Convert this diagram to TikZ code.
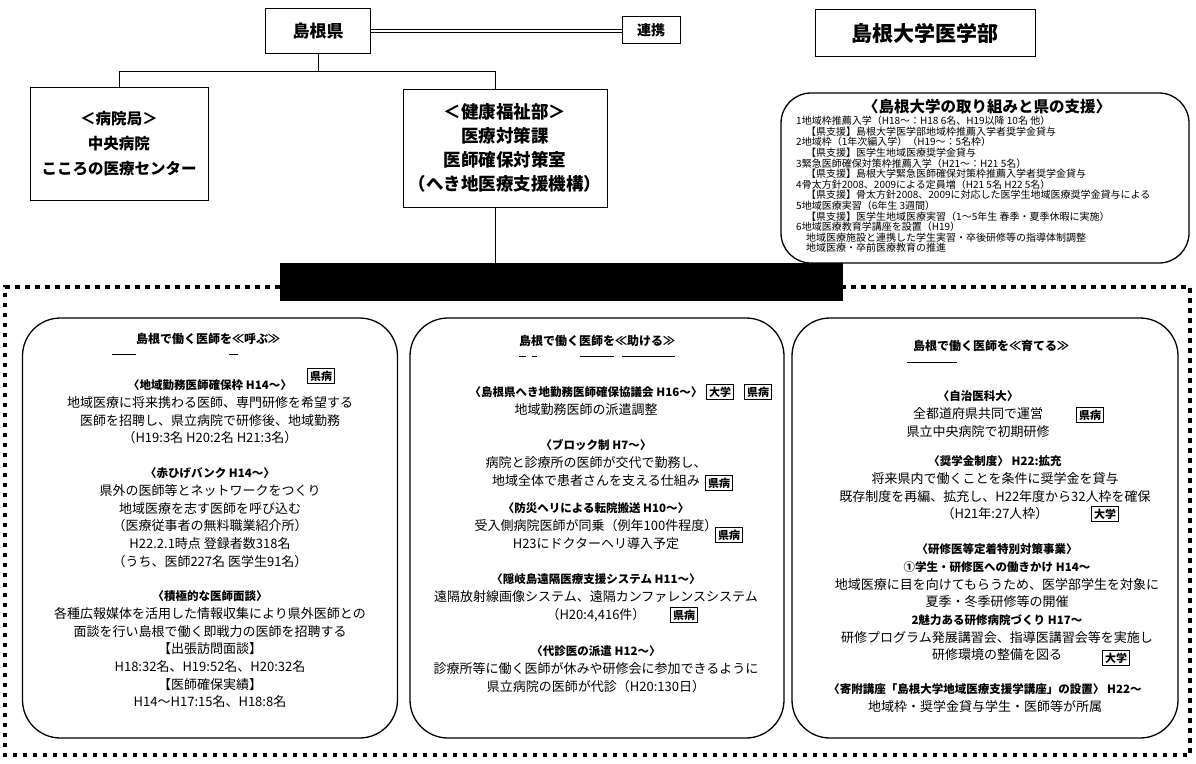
\documentclass[tikz,border=0pt]{standalone}
\usepackage{fontspec}
\setmainfont{Noto Sans CJK JP}
\usetikzlibrary{positioning}
\newcommand\itemhead[1]{{\bfseries\fontsize{11.5}{17.7}\selectfont #1}}

\begin{document}
\begin{tikzpicture}[
    x=1pt, y=-1pt,
    orgbox/.style={draw, line width=1pt, align=center, inner sep=0pt},
    panel/.style={draw, line width=1.3pt, rounded corners=38pt, inner sep=0pt},
    paneltitle/.style={font=\bfseries\fontsize{12}{14}\selectfont},
    item/.style={anchor=north, align=center, inner sep=0pt, font=\fontsize{13}{17.7}\selectfont},
    tag/.style={draw, line width=1.3pt, fill=white, inner sep=2.5pt, font=\bfseries\fontsize{11}{11}\selectfont},
    dotframe/.style={line width=4pt, dash pattern=on 4.5pt off 5.5pt},
    uline/.style={line width=0.8pt}
]
\useasboundingbox (0,0) rectangle (1196,763);

\node[orgbox, minimum width=105, minimum height=45, font=\bfseries\fontsize{17}{17}\selectfont] (pref) at (318,31) {島根県};
\node[orgbox, minimum width=58, minimum height=27, font=\bfseries\fontsize{14}{14}\selectfont] (renkei) at (651,30) {連携};
\node[orgbox, minimum width=220, minimum height=47, font=\bfseries\fontsize{21}{21}\selectfont] (univ) at (925,33) {島根大学医学部};
\draw[double, double distance=2.2pt, line width=0.7pt] (pref.east) -- (pref.east -| renkei.west);
\draw[double, double distance=1.6pt, line width=0.6pt] (renkei.east |- pref.east) -- (pref.east -| univ.west);

\node[orgbox, minimum width=178, minimum height=113, font=\bfseries\fontsize{15.5}{25}\selectfont] (hosp) at (119,144) {＜病院局＞\\中央病院\\こころの医療センター};
\node[orgbox, minimum width=204, minimum height=118, font=\bfseries\fontsize{17.5}{24}\selectfont] (welfare) at (505,148) {＜健康福祉部＞\\医療対策課\\医師確保対策室\\（へき地医療支援機構）};
\draw[line width=1pt] (pref.south) -- ++(0,17) coordinate (fork) -| ([xshift=-10pt]welfare.north);
\draw[line width=1pt] (fork) -| (hosp.north);

\node[panel, rounded corners=30pt, minimum width=408, minimum height=170] (unibox) at (985,178) {};
\node[font=\bfseries\fontsize{15.5}{16}\selectfont] (unititle) at (987,107) {〈島根大学の取り組みと県の支援〉};
\node[anchor=north west, align=left, inner sep=0pt, font=\fontsize{10}{10.6}\selectfont] (unilist) at (796,116) {%
1地域枠推薦入学（H18〜：H18 6名、H19以降 10名 他）\\
　【県支援】島根大学医学部地域枠推薦入学者奨学金貸与\\
2地域枠（1年次編入学）（H19〜：5名枠）\\
　【県支援】医学生地域医療奨学金貸与\\
3緊急医師確保対策枠推薦入学（H21〜：H21 5名）\\
　【県支援】島根大学緊急医師確保対策枠推薦入学者奨学金貸与\\
4骨太方針2008、2009による定員増（H21 5名 H22 5名）\\
　【県支援】骨太方針2008、2009に対応した医学生地域医療奨学金貸与による\\
5地域医療実習（6年生 3週間）\\
　【県支援】医学生地域医療実習（1〜5年生 春季・夏季休暇に実施）\\
6地域医療教育学講座を設置（H19）\\
　地域医療施設と連携した学生実習・卒後研修等の指導体制調整\\
　地域医療・卒前医療教育の推進};

\node[fill=black, draw, line width=1pt, minimum width=562, minimum height=37, inner sep=0pt] (bar) at (561,282) {};
\draw[line width=1pt] ([xshift=-10pt]welfare.south) -- ([xshift=-10pt]welfare.south |- bar.north);
\draw[dotframe] (bar.west |- 0,287) -- (5,287) -- (5,755) -- (1190,755) -- (1190,287) -- (bar.east |- 0,287);

\node[panel, minimum width=375, minimum height=420] (call) at (210,528) {};
\node[panel, minimum width=374, minimum height=420] (help) at (597,528) {};
\node[panel, minimum width=386, minimum height=420] (grow) at (985,528) {};

\node[paneltitle] (calltitle) at (208,339) {島根で働く医師を≪呼ぶ≫};
\draw[uline] (112,354) -- (136,354) (229,354) -- (238,354);
\node[paneltitle] (helptitle) at (597,341) {島根で働く医師を≪助ける≫};
\draw[uline] (519,356) -- (526,356) (532,356) -- (537,356) (580,356) -- (614,356) (622,356) -- (675,356);
\node[paneltitle] (growtitle) at (991,346) {島根で働く医師を≪育てる≫};
\draw[uline] (907,362) -- (957,362);

\node[item] (farm) at (210,379.6) {\itemhead{〈地域勤務医師確保枠 H14〜〉}\\地域医療に将来携わる医師、専門研修を希望する\\医師を招聘し、県立病院で研修後、地域勤務\\（H19:3名 H20:2名 H21:3名）};
\node[tag] (farmtag) at (321,376) {県病};
\node[item] (akahige) at (210,467.6) {\itemhead{〈赤ひげバンク H14〜〉}\\県外の医師等とネットワークをつくり\\地域医療を志す医師を呼び込む\\（医療従事者の無料職業紹介所）\\H22.2.1時点 登録者数318名\\（うち、医師227名 医学生91名）};
\node[item] (interview) at (210,590.6) {\itemhead{〈積極的な医師面談〉}\\各種広報媒体を活用した情報収集により県外医師との\\面談を行い島根で働く即戦力の医師を招聘する\\【出張訪問面談】\\H18:32名、H19:52名、H20:32名\\【医師確保実績】\\H14〜H17:15名、H18:8名};

\node[item] (council) at (586,386.6) {\itemhead{〈島根県へき地勤務医師確保協議会 H16〜〉}\\地域勤務医師の派遣調整};
\node[tag] (counciluni) at (720,392) {大学};
\node[tag] (councilhosp) at (758,392) {県病};
\node[item] (block) at (596,439.6) {\itemhead{〈ブロック制 H7〜〉}\\病院と診療所の医師が交代で勤務し、\\地域全体で患者さんを支える仕組み};
\node[tag] (blocktag) at (719,483) {県病};
\node[item] (heli) at (596,502.6) {\itemhead{〈防災ヘリによる転院搬送 H10〜〉}\\受入側病院医師が同乗（例年100件程度）\\H23にドクターヘリ導入予定};
\node[tag] (helitag) at (729,535) {県病};
\node[item] (oki) at (596,573.6) {\itemhead{〈隠岐島遠隔医療支援システム H11〜〉}\\遠隔放射線画像システム、遠隔カンファレンスシステム\\（H20:4,416件）};
\node[tag] (okitag) at (684,615) {県病};
\node[item] (locum) at (596,645.6) {\itemhead{〈代診医の派遣 H12〜〉}\\診療所等に働く医師が休みや研修会に参加できるように\\県立病院の医師が代診（H20:130日）};

\node[item] (jichi) at (978,390.6) {\itemhead{〈自治医科大〉}\\全都道府県共同で運営\\県立中央病院で初期研修};
\node[tag] (jichitag) at (1090,415) {県病};
\node[item] (scholar) at (995,455.6) {\itemhead{〈奨学金制度〉 H22:拡充}\\将来県内で働くことを条件に奨学金を貸与\\既存制度を再編、拡充し、H22年度から32人枠を確保\\（H21年:27人枠）};
\node[tag] (scholartag) at (1105,514) {大学};
\node[item] (trainee) at (997,543.6) {\itemhead{〈研修医等定着特別対策事業〉}\\\itemhead{①学生・研修医への働きかけ H14〜}\\地域医療に目を向けてもらうため、医学部学生を対象に\\夏季・冬季研修等の開催\\\itemhead{2魅力ある研修病院づくり H17〜}\\研修プログラム発展講習会、指導医講習会等を実施し\\研修環境の整備を図る};
\node[tag] (traineetag) at (1116,658) {大学};
\node[item] (chair) at (985,683.6) {\itemhead{〈寄附講座「島根大学地域医療支援学講座」の設置〉 H22〜}\\地域枠・奨学金貸与学生・医師等が所属};
\end{tikzpicture}
\end{document}
